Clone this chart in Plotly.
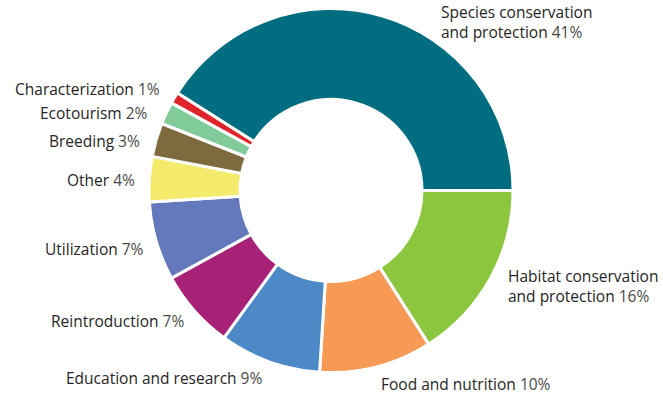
import plotly.graph_objects as go

categories = ["Species conservation<br>and protection", "Habitat conservation<br>and protection",
              "Food and nutrition", "Education and research", "Reintroduction", "Utilization",
              "Other", "Breeding", "Ecotourism", "Characterization"]
values = [41, 16, 10, 9, 7, 7, 4, 3, 2, 1]
colors = ["#006d80", "#8cc63f", "#f69a55", "#4d88c7", "#a72277", "#6478bc",
          "#f4eb6c", "#7f6a3f", "#81cb98", "#e0242b"]

W, H = 663, 395
# label anchor points in pixels (x, y of label centre, xanchor)
label_pos = [(440, 22.5, "left"), (507, 286, "left"), (380, 384, "left"), (263, 378, "right"),
             (185, 321, "right"), (145, 249, "right"), (136, 180, "right"), (141, 141, "right"),
             (149, 113, "right"), (161, 89, "right")]

cx, cy, R = 331, 190.5, 182
fig = go.Figure(go.Pie(
    labels=categories, values=values, sort=False, direction="clockwise",
    rotation=-57.6, hole=0.5, textinfo="none", hoverinfo="label+percent",
    marker=dict(colors=colors, line=dict(color="white", width=3)),
    domain=dict(x=[(cx - R) / W, (cx + R) / W], y=[(H - cy - R) / H, (H - cy + R) / H]),
    showlegend=False,
))

for cat, v, (px, py, xa) in zip(categories, values, label_pos):
    fig.add_annotation(
        x=px / W, y=1 - py / H, xref="paper", yref="paper", xanchor=xa, yanchor="middle",
        text=f"{cat} <span style='color:#4a4a4a'>{v}%</span>", showarrow=False, align="left",
        borderpad=0, font=dict(family="Open Sans", size=15.5, color="#262626"),
    )

fig.update_layout(width=W, height=H, margin=dict(l=0, r=0, t=0, b=0),
                  paper_bgcolor="white", plot_bgcolor="white")
fig.write_html("out.html", config={"displayModeBar": False},
               post_script="document.body.style.margin='0';")
